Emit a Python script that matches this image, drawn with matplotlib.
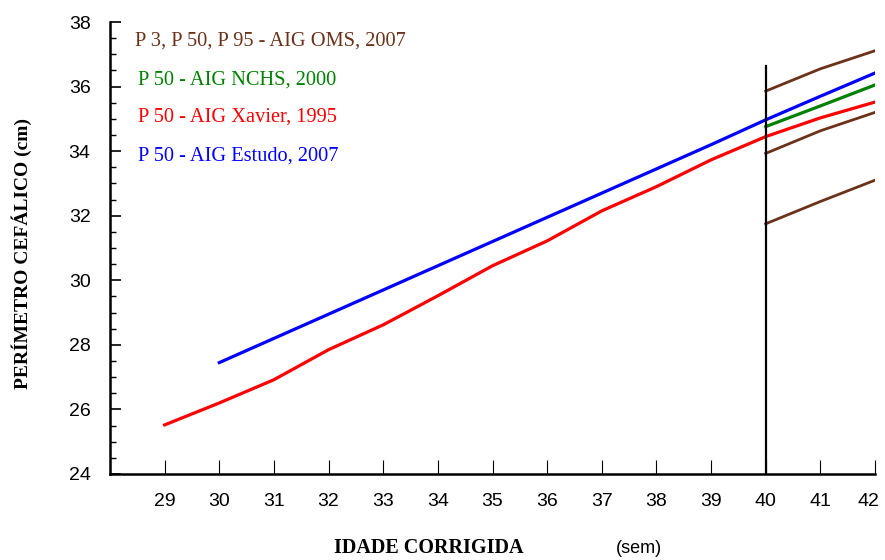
import numpy as np
import matplotlib.pyplot as plt
import matplotlib.transforms as mtransforms
from matplotlib.ticker import MultipleLocator

plt.rcParams['font.size'] = 14

# idade corrigida (semanas) e perímetro cefálico (cm)
weeks_xavier = [29, 30, 31, 32, 33, 34, 35, 36, 37, 38, 39, 40, 41, 42]
pc_xavier = [25.52, 26.2, 26.92, 27.85, 28.62, 29.52, 30.45, 31.22, 32.15,
             32.9, 33.73, 34.45, 35.03, 35.52]

weeks_estudo = [30, 31, 32, 33, 34, 35, 36, 37, 38, 39, 40, 41, 42]
pc_estudo = [27.45, 28.2, 28.95, 29.7, 30.45, 31.2, 31.95, 32.7, 33.45,
             34.2, 34.97, 35.7, 36.42]

weeks_term = [40, 41, 42]
pc_nchs = [34.76, 35.4, 36.05]
pc_oms_p3 = [31.75, 32.44, 33.1]
pc_oms_p50 = [33.93, 34.63, 35.2]
pc_oms_p95 = [35.86, 36.55, 37.11]

vline_x = 40
vline_top = 36.65

brown = '#6b3219'
sans = ['Liberation Sans', 'DejaVu Sans']
serif = ['Liberation Serif', 'DejaVu Serif']

fig = plt.figure(figsize=(8.85, 5.6), dpi=100)
ax = fig.add_axes([0.1243, 0.1536, 0.8644, 0.8071])

ax.plot(weeks_xavier, pc_xavier, color='#ff0000', lw=2.3)
ax.plot(weeks_estudo, pc_estudo, color='#0000ff', lw=2.3)
ax.plot(weeks_term, pc_nchs, color='#008000', lw=2.3)
for pc in (pc_oms_p3, pc_oms_p50, pc_oms_p95):
    ax.plot(weeks_term, pc, color=brown, lw=2.0)
ax.plot([vline_x, vline_x], [24, vline_top], color='black', lw=1.6)

ax.set_xlim(28, 42)
ax.set_ylim(24, 38)
for s in ('top', 'right'):
    ax.spines[s].set_visible(False)
for s in ('left', 'bottom'):
    ax.spines[s].set_linewidth(1.8)

ax.set_xticks(range(29, 43))
ax.yaxis.set_major_locator(MultipleLocator(2))
ax.yaxis.set_minor_locator(MultipleLocator(0.5))
ax.tick_params(axis='x', direction='in', length=10, width=0.8, pad=14)
ax.tick_params(axis='y', which='major', direction='in', length=8, width=1.2, pad=14)
ax.tick_params(axis='y', which='minor', direction='in', length=4, width=1.0)
for lab in ax.get_xticklabels() + ax.get_yticklabels():
    lab.set_family(sans)
    lab.set_fontsize(14)
# last x label pulled in a little so it stays inside the figure
last = ax.get_xticklabels()[-1]
last.set_transform(last.get_transform() +
                   mtransforms.ScaledTranslation(-5 / 72, 0, fig.dpi_scale_trans))

legend_items = [
    ('P 3, P 50, P 95 - AIG OMS, 2007', brown, 37.4, 28.45),
    ('P 50 - AIG NCHS, 2000', '#008000', 36.2, 28.52),
    ('P 50 - AIG Xavier, 1995', '#ff0000', 35.05, 28.52),
    ('P 50 - AIG Estudo, 2007', '#0000ff', 33.85, 28.52),
]
for txt, col, yv, xv in legend_items:
    ax.text(xv, yv, txt, color=col, family=serif, fontsize=14.7, va='center')

fig.text(0.025, 0.548, 'PERÍMETRO CEFÁLICO (cm)', rotation=90, family=serif,
         fontweight='bold', fontsize=14, ha='center', va='center')
fig.text(0.485, 0.021, 'IDADE CORRIGIDA', family=serif, fontweight='bold',
         fontsize=14.5, ha='center', va='center')
fig.text(0.722, 0.021, '(sem)', family=sans, fontsize=13, ha='center', va='center')

fig.savefig('out.png', dpi=100)
